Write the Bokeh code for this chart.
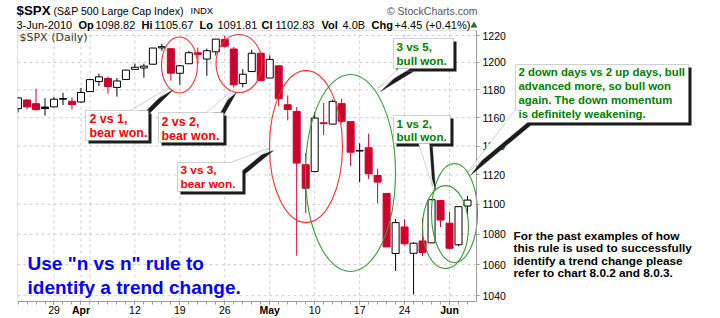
import math
from bokeh.plotting import figure
from bokeh.models import (Range1d, FixedTicker, NumeralTickFormatter, Label,
                          BoxAnnotation, PolyAnnotation, ColumnDataSource)
from bokeh.embed import file_html
from bokeh.resources import INLINE

# ---------------- data (S&P 500 daily) ----------------
dates = ["Mar 22", "Mar 23", "Mar 24", "Mar 25", "Mar 26", "Mar 29", "Mar 30", "Mar 31",
         "Apr 1", "Apr 5", "Apr 6", "Apr 7", "Apr 8", "Apr 9", "Apr 12", "Apr 13", "Apr 14",
         "Apr 15", "Apr 16", "Apr 19", "Apr 20", "Apr 21", "Apr 22", "Apr 23", "Apr 26",
         "Apr 27", "Apr 28", "Apr 29", "Apr 30", "May 3", "May 4", "May 5", "May 6", "May 7",
         "May 10", "May 11", "May 12", "May 13", "May 14", "May 17", "May 18", "May 19",
         "May 20", "May 21", "May 24", "May 25", "May 26", "May 27", "May 28", "Jun 1",
         "Jun 2", "Jun 3"]
opens = [1157.25, 1166.47, 1172.70, 1170.03, 1167.58, 1167.71, 1173.75, 1171.75,
         1171.23, 1178.71, 1186.01, 1188.23, 1181.75, 1187.47, 1194.94, 1195.94, 1198.69,
         1210.77, 1210.17, 1192.06, 1199.04, 1207.16, 1202.52, 1207.87, 1217.07,
         1209.92, 1184.59, 1193.30, 1206.77, 1188.58, 1197.50, 1169.24, 1164.38, 1127.04,
         1122.27, 1156.39, 1155.43, 1170.04, 1157.19, 1136.52, 1138.78, 1119.57,
         1107.34, 1067.26, 1084.78, 1067.42, 1075.51, 1074.27, 1102.59, 1087.30,
         1073.01, 1098.82]
highs = [1167.82, 1174.72, 1173.04, 1180.69, 1173.93, 1174.85, 1177.83, 1174.56,
         1181.43, 1187.73, 1191.80, 1189.60, 1188.55, 1194.66, 1199.20, 1199.04, 1210.65,
         1213.92, 1210.17, 1197.87, 1208.58, 1210.99, 1210.27, 1217.28, 1219.80,
         1211.38, 1195.05, 1209.36, 1207.99, 1205.13, 1197.50, 1175.95, 1167.58, 1135.13,
         1163.85, 1170.48, 1172.87, 1173.57, 1157.19, 1141.88, 1148.66, 1124.27,
         1107.34, 1090.16, 1089.95, 1074.75, 1090.75, 1103.52, 1102.59, 1094.77,
         1098.56, 1105.67]
lows = [1152.88, 1163.83, 1166.01, 1165.09, 1161.48, 1167.71, 1168.92, 1165.77,
        1170.69, 1178.71, 1182.77, 1177.25, 1175.12, 1187.15, 1194.71, 1188.82, 1198.69,
        1208.50, 1186.77, 1183.68, 1199.04, 1198.85, 1190.19, 1205.10, 1211.07,
        1181.62, 1181.81, 1193.30, 1186.32, 1188.58, 1168.12, 1158.15, 1065.79, 1094.15,
        1122.27, 1147.71, 1155.43, 1156.14, 1126.14, 1114.96, 1117.20, 1100.66,
        1071.58, 1055.90, 1072.70, 1040.78, 1065.59, 1074.27, 1084.78, 1069.89,
        1072.03, 1091.81]
closes = [1165.81, 1174.17, 1167.72, 1165.73, 1166.59, 1173.22, 1173.27, 1169.43,
          1178.10, 1187.44, 1189.44, 1182.45, 1186.44, 1194.37, 1196.48, 1197.30, 1210.65,
          1211.67, 1192.13, 1197.52, 1207.17, 1205.94, 1208.67, 1217.28, 1212.05,
          1183.71, 1191.36, 1206.78, 1186.69, 1202.26, 1173.60, 1165.90, 1128.15, 1110.88,
          1159.73, 1155.79, 1171.67, 1157.44, 1135.68, 1136.94, 1120.80, 1115.05,
          1071.59, 1087.69, 1073.65, 1074.03, 1067.95, 1103.06, 1089.41, 1070.71,
          1098.38, 1102.83]
volume_text = "4.0B"

x_tick_pos = [0, 3, 9, 14, 19, 24, 29, 34, 39, 44]
x_tick_labels = ["29", "Apr", "12", "19", "26", "May", "10", "17", "24", "Jun"]
month_names = ["Apr", "May", "Jun"]
x_grid_pos = [0, 3, 4, 9, 14, 19, 24, 29, 34, 39, 44]
y_ticks = [1040, 1060, 1080, 1100, 1120, 1140, 1160, 1180, 1200, 1220]

# annotation ellipses (center in chart coordinates, size in pixels)
ell_x = [13.96, 20.58, 28.03, 32.98, 43.55, 44.55]
ell_y = [1198.1, 1199.2, 1139.6, 1121.3, 1084.7, 1094.1]
ell_w = [36, 46, 73, 90, 46, 46]
ell_h = [56, 58, 152, 197, 83, 99]
ell_c = ["#ff3030", "#ff3030", "#ff3030", "#3a9a3a", "#3a9a3a", "#3a9a3a"]

# ---------------- layout of the price panel inside the 720x318 canvas ----------------
W, H = 720, 318
CL, CT, CR, CB = 17, 30, 476, 301          # price panel edges (pixels)
X_LO, X_HI = -4.06, 47.0                   # visible trading-day range of the panel
Y_LO, Y_HI = 1036.3, 1223.75               # visible price range of the panel (log)
pxd = (CR - CL) / (X_HI - X_LO)
k = math.log(Y_HI / Y_LO) / (CB - CT)
x_range = Range1d(X_LO - CL / pxd, X_HI + (W - CR) / pxd)
y_range = Range1d(Y_LO * math.exp(-(H - CB) * k), Y_HI * math.exp(CT * k))

RED = "#d0002e"
GRID = "#cfcfcf"
AX = "#9a9a9a"
U = "screen"
TY = 4   # text labels render a little low; lift them

p = figure(width=W, height=H, min_border_left=0, min_border_right=0,
           min_border_top=0, min_border_bottom=0,
           x_range=x_range, y_range=y_range,
           y_axis_type="log", y_axis_location="right",
           toolbar_location=None, output_backend="svg",
           background_fill_color="white", border_fill_color="white",
           outline_line_color=None)
p.title.visible = False
p.xgrid.visible = False
p.ygrid.visible = False

# grid lines, bounded to the price panel
p.segment(x0=x_grid_pos, y0=[Y_LO] * len(x_grid_pos), x1=x_grid_pos, y1=[Y_HI] * len(x_grid_pos),
          line_color=GRID, line_dash="3 3", line_width=1)
p.segment(x0=[X_LO] * len(y_ticks), y0=y_ticks, x1=[X_HI] * len(y_ticks), y1=y_ticks,
          line_color=GRID, line_dash="3 3", line_width=1)

xs = [i - 5 for i in range(len(dates))]
cols, fills = [], []
for i in range(len(dates)):
    prev = closes[i - 1] if i > 0 else opens[i]
    c = "#000000" if closes[i] >= prev else RED
    cols.append(c)
    fills.append("white" if closes[i] > opens[i] else c)

src = ColumnDataSource(dict(
    x=xs, high=highs, low=lows,
    top=[max(o, c) for o, c in zip(opens, closes)],
    bottom=[min(o, c) for o, c in zip(opens, closes)],
    col=cols, fill=fills))

p.segment(x0="x", y0="low", x1="x", y1="high", line_color="col", line_width=1, source=src)
p.vbar(x="x", width=0.78, top="top", bottom="bottom", fill_color="fill",
       line_color="col", line_width=1, source=src)

p.ellipse(x=ell_x, y=ell_y, width=ell_w, height=ell_h,
          width_units="screen", height_units="screen",
          fill_color=None, line_color=ell_c, line_width=1.1)

# axes pinned to the panel edges
p.xaxis.fixed_location = Y_LO
p.xaxis.bounds = (X_LO, X_HI)
p.xaxis.ticker = FixedTicker(ticks=x_tick_pos, minor_ticks=list(range(-4, 47)))
p.xaxis.major_label_overrides = {t: ("" if l in month_names else l)
                                 for t, l in zip(x_tick_pos, x_tick_labels)}
p.xaxis.major_label_text_font = "Liberation Sans"
p.xaxis.major_label_text_font_size = "10.5px"
p.xaxis.major_label_text_color = "#000000"
p.xaxis.major_label_standoff = 1
p.xaxis.major_tick_out = 3
p.xaxis.major_tick_in = 0
p.xaxis.minor_tick_out = 3
p.xaxis.minor_tick_in = 0
p.xaxis.axis_line_color = AX
p.xaxis.major_tick_line_color = AX
p.xaxis.minor_tick_line_color = AX

p.yaxis.fixed_location = X_HI
p.yaxis.bounds = (Y_LO, Y_HI)
p.yaxis.ticker = FixedTicker(ticks=y_ticks)
p.yaxis.formatter = NumeralTickFormatter(format="0")
p.yaxis.major_label_text_font = "Liberation Sans"
p.yaxis.major_label_text_font_size = "10.5px"
p.yaxis.major_label_text_color = "#000000"
p.yaxis.major_label_standoff = 3
p.yaxis.major_tick_out = 3
p.yaxis.major_tick_in = 0
p.yaxis.minor_tick_line_color = None
p.yaxis.axis_line_color = AX
p.yaxis.major_tick_line_color = AX


def sx(cx):
    return cx


def sy(cy):
    return H - cy


def txt(cx, cy, s, size, color="#000000", bold=False, font="Liberation Sans", align="left"):
    p.add_layout(Label(x=sx(cx), y=sy(cy - TY), x_units=U, y_units=U, text=s,
                       text_font=font, text_font_size=f"{size}px", text_color=color,
                       text_font_style="bold" if bold else "normal",
                       text_align=align, text_baseline="alphabetic"))


def poly(xv, yv, fill, line, lw=1):
    p.add_layout(PolyAnnotation(xs=[sx(v) for v in xv], ys=[sy(v) for v in yv],
                                xs_units=U, ys_units=U,
                                fill_color=fill, fill_alpha=1,
                                line_color=line, line_width=lw))


def box(l, t, r, b, fill, line):
    p.add_layout(BoxAnnotation(left=sx(l), right=sx(r), top=sy(t), bottom=sy(b),
                               left_units=U, right_units=U, top_units=U, bottom_units=U,
                               fill_color=fill, fill_alpha=1 if fill else 0,
                               line_color=line, line_width=1))


# mask what lies left of the price panel, then the panel border
box(0, CT - 1, CL, CB + 1, "white", None)
box(CL, CT, CR, CB, None, AX)

# bold month labels on x axis (same line as the axis' day labels)
for t, l in zip(x_tick_pos, x_tick_labels):
    if l in month_names:
        txt(CL + (t - X_LO) * pxd, 313.5, l, 10.5, bold=True, align="center")

# header
txt(16, 14, "$SPX", 13.3, bold=True)
txt(53, 14, "(S&P 500 Large Cap Index)", 10.6)
txt(190, 14, "INDX", 9.5)
txt(477, 14, "\u00a9 StockCharts.com", 10.5, color="#555555", align="right")
chg = closes[-1] - closes[-2]
pct = chg / closes[-2] * 100
line2 = [(16, "3-Jun-2010", False), (78, "Op", True), (95, f"{opens[-1]:.2f}", False),
         (141, "Hi", True), (154, f"{highs[-1]:.2f}", False),
         (199, "Lo", True), (217, f"{lows[-1]:.2f}", False),
         (261, "Cl", True), (275, f"{closes[-1]:.2f}", False),
         (321, "Vol", True), (342, volume_text, False),
         (371, "Chg", True), (394, f"{chg:+.2f} ({pct:+.2f}%)", False)]
for cx, s, b in line2:
    txt(cx, 28, s, 11, bold=b)
poly([470, 477, 473.5], [27, 27, 21], "#2e6b2e", None)

txt(19, 41, "$SPX (Daily)", 11, color="#333333", font="DejaVu Sans")

SH = "#1c1c1c"
BORDER = "#666666"


def callout(bx, base1, base2, apex, lines, color, size, x_text, baselines):
    l, t, r, b = bx
    tx = [base1[0], base2[0], apex[0]]
    ty = [base1[1], base2[1], apex[1]]
    poly([v + 3 for v in tx], [v + 3 for v in ty], SH, SH)
    box(l + 3, t + 3, r + 3, b + 3, SH, None)
    box(l, t, r, b, "white", BORDER)
    poly(tx, ty, "white", None)
    for a in (base1, base2):
        poly([a[0], apex[0]], [a[1], apex[1]], None, BORDER)
    for s, yb in zip(lines, baselines):
        txt(x_text, yb, s, size, color=color, bold=True)


callout((85, 110, 148, 140), (130, 110), (146, 110), (170, 86),
        ["2 vs 1,", "bear won."], "#ff0000", 12.4, 89, [122, 136])
callout((158, 112, 223, 142), (206, 112), (220, 112), (233, 89),
        ["2 vs 2,", "bear won."], "#ff0000", 12.4, 161, [125, 139])
callout((177, 162, 242, 191), (230, 162), (242, 170), (270, 147),
        ["3 vs 3,", "bear won."], "#ff0000", 11.8, 180, [173, 187])
callout((393, 38, 453, 68), (398, 68), (410, 68), (377, 88),
        ["3 vs 5,", "bull won."], "#008000", 11.6, 396, [50, 64])
callout((393, 115, 450, 143), (418, 143), (429, 143), (432, 186),
        ["1 vs 2,", "bull won."], "#008000", 11.6, 396, [127, 140])
callout((515, 64, 688, 122), (515, 109), (527, 122), (467, 172),
        ["2 down days vs 2 up days, bull", "advanced more, so bull won",
         "again. The down momentum", "is definitely weakening."],
        "#008000", 11.4, 518, [75, 89.5, 103.5, 117.5])

for s, yb in zip(["For the past examples of how", "this rule is used to successfully",
                  "identify a trend change please", "refer to chart 8.0.2 and 8.0.3."],
                 [239.5, 251.5, 264, 276.5]):
    txt(513, yb, s, 11.8, color="#000000", bold=True)

txt(27, 267, "Use \"n vs n\" rule to", 19, color="#0000ff", bold=True)
txt(27, 290.5, "identify a trend change.", 19, color="#0000ff", bold=True)

open("out.html", "w").write(file_html(p, INLINE))
